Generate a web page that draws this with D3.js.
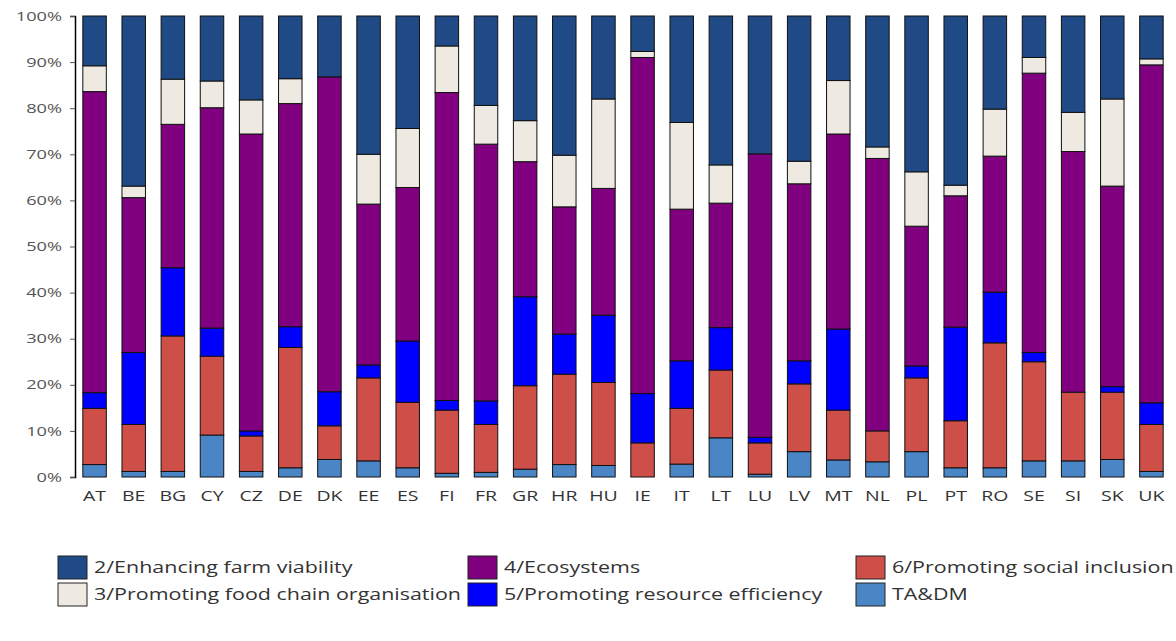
<!DOCTYPE html>
<html>
<head>
<meta charset="utf-8">
<script src="https://cdn.jsdelivr.net/npm/d3@7"></script>
<style>
  html, body { margin: 0; padding: 0; background: #ffffff; }
  svg { display: block; }
</style>
</head>
<body>
<svg id="chart" width="1176" height="641"></svg>
<script>
// Member states
const countries = ["AT","BE","BG","CY","CZ","DE","DK","EE","ES","FI","FR","GR","HR","HU",
                   "IE","IT","LT","LU","LV","MT","NL","PL","PT","RO","SE","SI","SK","UK"];

// Share of planned budget by priority (%), one value per country
const taDm        = [2.7,1.2,1.2,9.1,1.2,2.0,3.8,3.5,2.0,0.8,1.0,1.7,2.7,2.5,0.0,2.8,8.5,0.6,5.5,3.7,3.3,5.5,2.0,2.0,3.5,3.5,3.8,1.2];
const socialIncl  = [12.2,10.2,29.4,17.1,7.7,26.1,7.3,18.0,14.2,13.7,10.4,18.1,19.6,18.0,7.4,12.1,14.7,6.8,14.7,10.8,6.7,16.0,10.2,27.1,21.5,14.9,14.6,10.2];
const resourceEff = [3.4,15.6,14.8,6.1,1.1,4.5,7.4,2.8,13.3,2.1,5.1,19.3,8.7,14.6,10.7,10.3,9.2,1.2,5.0,17.6,0.0,2.6,20.3,11.0,2.0,0.0,1.2,4.7];
const ecosystems  = [65.3,33.6,31.1,47.8,64.4,48.4,68.3,34.9,33.3,66.8,55.7,29.3,27.6,27.5,72.9,32.9,27.0,61.5,38.4,42.3,59.1,30.3,28.5,29.5,60.6,52.2,43.5,73.3];
const foodChain   = [5.6,2.5,9.8,5.8,7.4,5.4,0.0,10.8,12.8,10.1,8.4,8.9,11.2,19.4,1.3,18.8,8.3,0.0,4.9,11.6,2.5,11.8,2.3,10.2,3.4,8.5,18.9,1.3];
const farmViab    = [10.8,36.9,13.7,14.1,18.2,13.6,13.2,30.0,24.4,6.5,19.4,22.7,30.2,18.0,7.7,23.1,32.3,29.9,31.5,14.0,28.4,33.8,36.7,20.2,9.0,20.9,18.0,9.3];

// Series names, bottom of the stack first
const seriesKeys  = ["TA&DM","6/Promoting social inclusion","5/Promoting resource efficiency",
                     "4/Ecosystems","3/Promoting food chain organisation","2/Enhancing farm viability"];
const seriesData  = [taDm, socialIncl, resourceEff, ecosystems, foodChain, farmViab];
const seriesColors = ["#4a86c6","#cd4f48","#0000ff","#800080","#eeeae1","#1f4a86"];

// Legend layout: three columns, two rows
const legendOrder = [
  ["2/Enhancing farm viability", "3/Promoting food chain organisation"],
  ["4/Ecosystems", "5/Promoting resource efficiency"],
  ["6/Promoting social inclusion", "TA&DM"]
];

const yTicks = [0,0.1,0.2,0.3,0.4,0.5,0.6,0.7,0.8,0.9,1.0];

const rows = countries.map((c, i) => {
  const r = { country: c };
  seriesKeys.forEach((k, j) => { r[k] = seriesData[j][i]; });
  return r;
});

const svg = d3.select("#chart");
const margin = { left: 75, top: 16, bottom: 477, right: 1171 };
const FONT = "'Open Sans', sans-serif";
const WIDE = 1.3;   // horizontal stretch applied to all labels

const x = d3.scaleBand().domain(countries)
  .range([margin.left, margin.right]).paddingInner(0.4).paddingOuter(0.2);
const y = d3.scaleLinear().domain([0, 1]).range([margin.bottom, margin.top]);
const color = d3.scaleOrdinal().domain(seriesKeys).range(seriesColors);

const stacked = d3.stack().keys(seriesKeys).offset(d3.stackOffsetExpand)(rows);

// Bars
svg.append("g").selectAll("g").data(stacked).join("g")
  .attr("fill", d => color(d.key))
  .selectAll("rect").data(d => d).join("rect")
  .attr("x", d => x(d.data.country))
  .attr("width", x.bandwidth())
  .attr("y", d => y(d[1]))
  .attr("height", d => Math.max(0, y(d[0]) - y(d[1])))
  .attr("stroke", "#111")
  .attr("stroke-width", 1);

// Y axis
const yAxis = svg.append("g")
  .attr("transform", `translate(${margin.left},0)`)
  .call(d3.axisLeft(y).tickValues(yTicks).tickFormat(d3.format(".0%")).tickSize(5).tickPadding(8));
yAxis.select(".domain").attr("stroke", "#000").attr("stroke-width", 1.5);
yAxis.selectAll(".tick line").attr("stroke", "#555");
yAxis.selectAll("text")
  .attr("font-family", FONT)
  .attr("font-size", 13)
  .attr("fill", "#555")
  .attr("x", -13 / 1.4)
  .attr("transform", "scale(1.4,1)");

// X axis labels
const xAxis = svg.append("g")
  .attr("transform", `translate(0,${margin.bottom})`)
  .call(d3.axisBottom(x).tickSize(0).tickPadding(13));
xAxis.select(".domain").remove();
xAxis.selectAll("text")
  .attr("font-family", FONT)
  .attr("font-size", 15)
  .attr("fill", "#333")
  .attr("transform", `scale(${WIDE},1)`);

// Legend
const colX = [58, 468, 856];
const rowY = [556, 583];
const legend = svg.append("g");
legendOrder.forEach((col, ci) => {
  col.forEach((name, ri) => {
    const g = legend.append("g").attr("transform", `translate(${colX[ci]},${rowY[ri]})`);
    g.append("rect").attr("width", 29).attr("height", 23)
      .attr("fill", color(name)).attr("stroke", "#222").attr("stroke-width", 1);
    g.append("text")
      .attr("transform", `translate(36,17) scale(${WIDE},1)`)
      .attr("font-family", FONT)
      .attr("font-size", 16.5)
      .attr("fill", "#333")
      .text(name);
  });
});
</script>
</body>
</html>
